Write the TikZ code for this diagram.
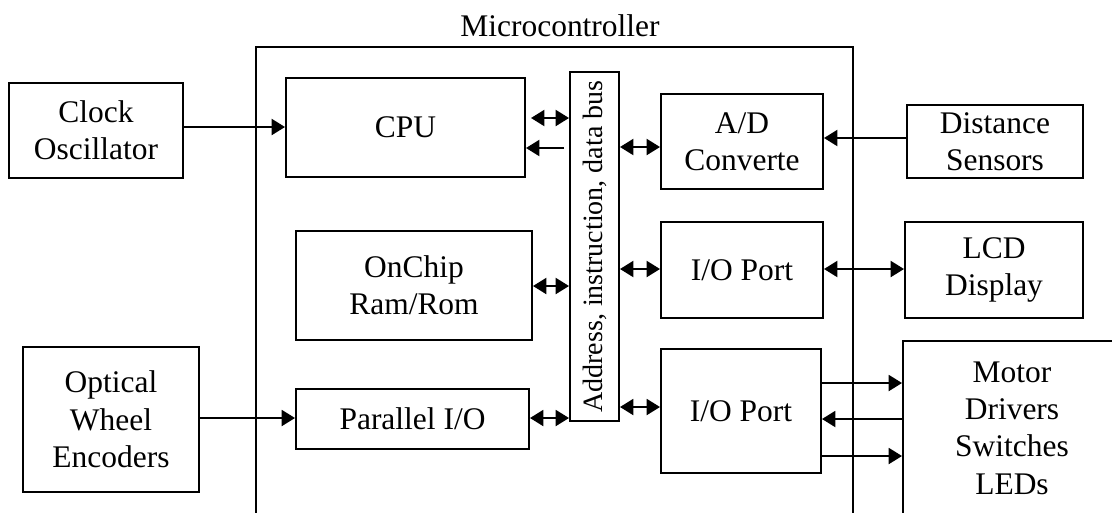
\documentclass[tikz,border=0pt]{standalone}
\usepackage{fontspec}
\setmainfont{Liberation Serif}
\usepackage{tikz}
\usetikzlibrary{arrows.meta}

\begin{document}
\begin{tikzpicture}[x=0.75pt, y=-0.75pt, line width=1.5pt,
    >={Triangle[length=10pt,width=12pt]},
    every node/.style={font=\fontsize{23.6}{28}\selectfont},
    bloque/.style={draw, rectangle, align=center, inner sep=0pt, line width=1.5pt}]

  \useasboundingbox (0,0) rectangle (1112,512);
  \clip (0,0) rectangle (1112,512);

  % Microcontrolador
  \node[bloque, minimum width=447.75pt, minimum height=369.75pt] (micro) at (554.5,293.5) {};
  \node (titulo) at (560,26) {Microcontroller};

  % Bloques internos
  \node[bloque, minimum width=179.25pt, minimum height=74.25pt] (cpu) at (405.5,127.5) {CPU};
  \node[bloque, minimum width=177pt, minimum height=81.75pt] (mem) at (414,285.5) {OnChip\\Ram/Rom};
  \node[bloque, minimum width=174.75pt, minimum height=45pt] (par) at (412.5,419) {Parallel I/O};
  \node[bloque, minimum width=36.75pt, minimum height=261.75pt, font=\fontsize{21}{25}\selectfont] (bus) at (594.5,246.5)
    {\rotatebox{90}{Address, instruction, data bus}};
  \node[bloque, minimum width=121.5pt, minimum height=71.25pt] (adc) at (742,141.5) {A/D\\Converte};
  \node[bloque, minimum width=121.5pt, minimum height=72pt] (iomid) at (742,270) {I/O Port};
  \node[bloque, minimum width=120pt, minimum height=93pt] (iolow) at (741,411) {I/O Port};

  % Bloques externos
  \node[bloque, minimum width=130.5pt, minimum height=71.25pt] (clock) at (96,130.5) {Clock\\Oscillator};
  \node[bloque, minimum width=132pt, minimum height=108.75pt] (optical) at (111,419.5) {Optical\\Wheel\\Encoders};
  \node[bloque, minimum width=132pt, minimum height=54.75pt] (dist) at (995,141.5) {Distance\\Sensors};
  \node[bloque, minimum width=133.5pt, minimum height=72pt] (lcd) at (994,270) {LCD\\Display};
  \node[bloque, minimum width=163.5pt, minimum height=130.5pt] (motor) at (1012,428) {Motor\\Drivers\\Switches\\LEDs};

  % Conexiones
  \draw[->] (clock.east |- 0,127) -- (cpu.west |- 0,127);
  \draw[<->, shorten <=3.75pt] (cpu.east |- 0,118) -- (bus.west |- 0,118);
  \draw[->, shorten <=3.75pt] (bus.west |- 0,148) -- (cpu.east |- 0,148);
  \draw[<->] (bus.east |- 0,147) -- (adc.west |- 0,147);
  \draw[->] (dist.west |- 0,138) -- (adc.east |- 0,138);
  \draw[<->] (mem.east |- 0,286) -- (bus.west |- 0,286);
  \draw[<->] (bus.east |- 0,269) -- (iomid.west |- 0,269);
  \draw[<->] (iomid.east |- 0,269) -- (lcd.west |- 0,269);
  \draw[->] (optical.east |- 0,418) -- (par.west |- 0,418);
  \draw[<->] (par.east |- 0,418) -- (bus.west |- 0,418);
  \draw[<->] (bus.east |- 0,407) -- (iolow.west |- 0,407);
  \draw[->] (iolow.east |- 0,383) -- (motor.west |- 0,383);
  \draw[->] (motor.west |- 0,419) -- (iolow.east |- 0,419);
  \draw[->] (iolow.east |- 0,456) -- (motor.west |- 0,456);
\end{tikzpicture}
\end{document}
